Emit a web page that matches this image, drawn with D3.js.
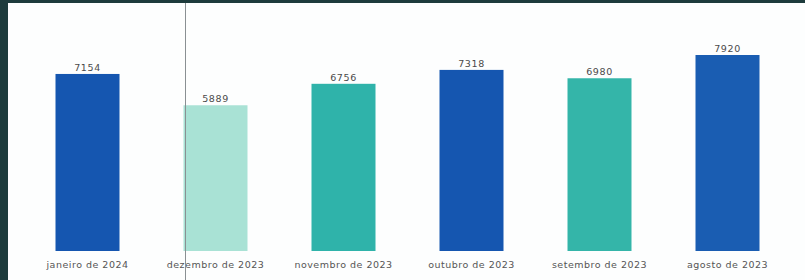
<!DOCTYPE html>
<html>
<head>
<meta charset="utf-8">
<script src="https://cdn.jsdelivr.net/npm/d3@7"></script>
<style>
  body { margin: 0; background: #1d3b3c; }
  svg { display: block; }
</style>
</head>
<body>
<div class="chart"></div>
<script>
var months = ['janeiro de 2024', 'dezembro de 2023', 'novembro de 2023', 'outubro de 2023', 'setembro de 2023', 'agosto de 2023'];
var totals = [7154, 5889, 6756, 7318, 6980, 7920];
var colors = ['#1556b0', '#a9e2d5', '#2fb3aa', '#1556b0', '#34b5a9', '#1a5db2'];

var width = 805, height = 280;

var svg = d3.select('.chart').append('svg')
  .attr('width', width)
  .attr('height', height);

// white panel inside the dark frame
svg.append('rect')
  .attr('x', 8).attr('y', 3)
  .attr('width', width - 8).attr('height', height - 3)
  .attr('fill', '#fdfefe');

var x = d3.scaleBand()
  .domain(months)
  .range([23.5, 791.5])
  .paddingInner(0.5)
  .paddingOuter(0.25);

var y = d3.scaleLinear()
  .domain([0, 7920])
  .range([251, 55]);

var data = months.map(function(m, i){ return { month: m, value: totals[i], color: colors[i] } });

svg.selectAll('rect.bar')
  .data(data)
  .enter()
  .append('rect')
  .attr('class', 'bar')
  .attr('x', function(d){ return x(d.month) })
  .attr('y', function(d){ return y(d.value) })
  .attr('width', x.bandwidth())
  .attr('height', function(d){ return y(0) - y(d.value) })
  .attr('fill', function(d){ return d.color });

svg.selectAll('text.val')
  .data(data)
  .enter()
  .append('text')
  .attr('class', 'val')
  .attr('x', function(d){ return x(d.month) + x.bandwidth() / 2 })
  .attr('y', function(d){ return y(d.value) - 3 })
  .attr('text-anchor', 'middle')
  .style('font-family', 'DejaVu Sans, sans-serif')
  .style('font-size', '9.5px')
  .style('letter-spacing', '0.6px')
  .style('fill', '#4a4a4a')
  .text(function(d){ return d.value });

var axis = svg.append('g')
  .attr('transform', 'translate(0,' + y(0) + ')')
  .call(d3.axisBottom(x).tickSize(0).tickPadding(10));
axis.select('.domain').remove();
axis.selectAll('text')
  .style('font-family', 'DejaVu Sans, sans-serif')
  .style('font-size', '9.5px')
  .style('letter-spacing', '0.5px')
  .style('fill', '#555');

// thin vertical marker line
svg.append('line')
  .attr('x1', 185.5).attr('x2', 185.5)
  .attr('y1', 3).attr('y2', height)
  .attr('stroke', '#8a9093')
  .attr('stroke-width', 1);
</script>
</body>
</html>
